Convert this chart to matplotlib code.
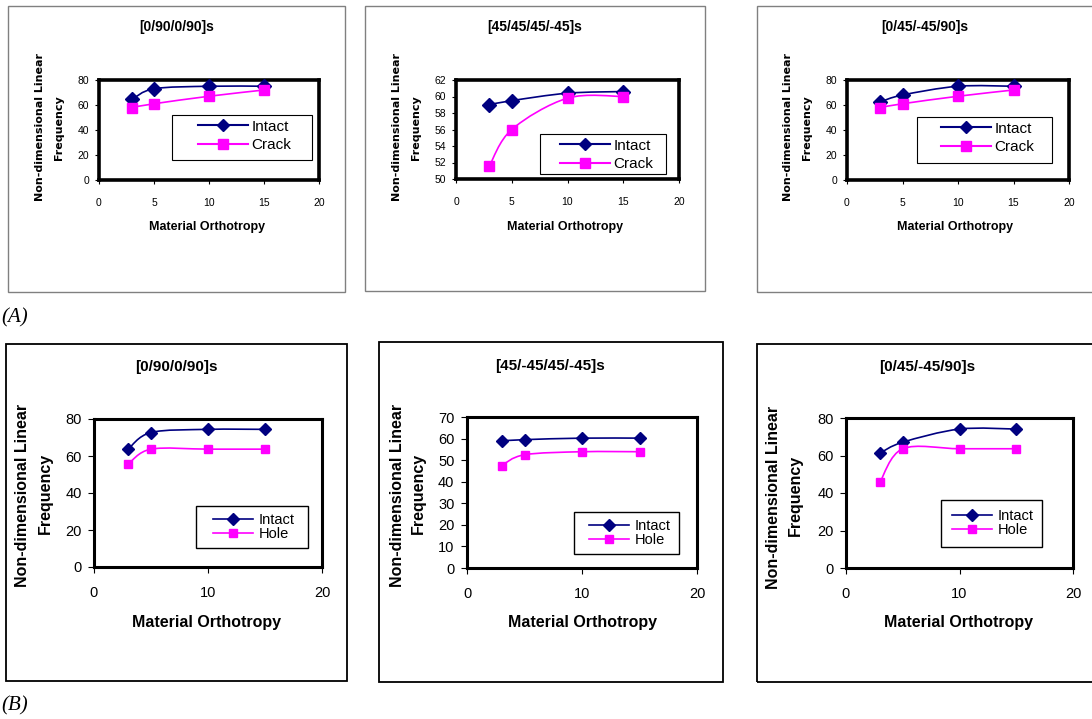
import matplotlib
matplotlib.use("Agg")
import matplotlib.pyplot as plt
from matplotlib.path import Path
from matplotlib.patches import PathPatch, Rectangle
from matplotlib.lines import Line2D

plt.rcParams['font.family'] = ['Liberation Sans', 'DejaVu Sans']

# ---- data ----
orthotropy = [3, 5, 10, 15]

titulos = ["[0/90/0/90]s", "[45/45/45/-45]s", "[0/45/-45/90]s",
           "[0/90/0/90]s", "[45/-45/45/-45]s", "[0/45/-45/90]s"]

intact_a = [[64.5, 73, 75, 75],
            [59.0, 59.5, 60.4, 60.6],
            [62.5, 68, 75, 75]]
crack_a = [[58, 61, 67, 72],
           [51.6, 56.0, 59.8, 60.0],
           [58, 61, 67, 72]]

intact_b = [[63.7, 72.7, 74.4, 74.4],
            [58.9, 59.5, 60.2, 60.2],
            [61.3, 67.1, 74.1, 74.1]]
hole_b = [[55.6, 63.7, 63.7, 63.7],
          [47.5, 52.5, 53.9, 53.9],
          [45.9, 63.6, 63.6, 63.6]]

ylims_a = [(0, 80, 20), (50, 62, 2), (0, 80, 20)]
ylims_b = [(0, 80, 20), (0, 70, 10), (0, 80, 20)]

AZUL = "#000080"
ROSA = "#FF00FF"

W, H = 1092, 719
fig = plt.figure(figsize=(W / 100, H / 100), dpi=100)


def px(x0, y0, x1, y1):
    return [x0 / W, 1 - y1 / H, (x1 - x0) / W, (y1 - y0) / H]


def fx(x):
    return x / W


def fy(y):
    return 1 - y / H


def caja(x0, y0, x1, y1, color, lw):
    fig.patches.append(Rectangle((fx(x0), fy(y1)), fx(x1 - x0), (y1 - y0) / H,
                                 transform=fig.transFigure, fill=False,
                                 edgecolor=color, lw=lw, zorder=5))


def curva(ax, x, y, color, lw):
    # suavizado tipo Excel (Catmull-Rom -> Bezier)
    n = len(x)
    verts = [(x[0], y[0])]
    codes = [Path.MOVETO]
    for i in range(n - 1):
        i0 = max(i - 1, 0)
        i3 = min(i + 2, n - 1)
        c1 = (x[i] + (x[i + 1] - x[i0]) / 6, y[i] + (y[i + 1] - y[i0]) / 6)
        c2 = (x[i + 1] - (x[i3] - x[i]) / 6, y[i + 1] - (y[i3] - y[i]) / 6)
        verts += [c1, c2, (x[i + 1], y[i + 1])]
        codes += [Path.CURVE4] * 3
    ax.add_patch(PathPatch(Path(verts, codes), fill=False, edgecolor=color, lw=lw, zorder=2))


# ---- marcos de cada grafico ----
marcos_a = [(8, 6, 345, 292), (365, 6, 705, 291), (757, 6, 1110, 292)]
marcos_b = [(6, 344, 347, 681), (379, 342, 723, 682), (757, 344, 1110, 682)]
for m in marcos_a:
    caja(*m, "#808080", 1.0)
for m in marcos_b:
    caja(*m, "black", 1.3)

# ---- fila A ----
ejes_a = [(99, 80, 319, 180), (456, 80, 679, 179), (847, 80, 1069, 180)]
titulo_a = [(177, 27), (535, 27), (925, 27)]
xlab_a = [(207, 227), (565, 227), (955, 227)]
ylab_a = [(40, 59), (397, 416), (788, 807)]
# caja de leyenda, inicio de la linea, centro de filas
caja_a = [(172, 115, 312, 160), (540, 134, 666, 174), (917, 117, 1052, 163)]
ley_a = [(198, 136), (560, 155), (941, 138)]

for k in range(3):
    ax = fig.add_axes(px(*ejes_a[k]))
    y0, y1, paso = ylims_a[k]
    ax.set_xlim(0, 20)
    ax.set_ylim(y0, y1)
    ax.set_xticks([0, 5, 10, 15, 20])
    ax.set_yticks(list(range(y0, y1 + 1, paso)))
    for s in ax.spines.values():
        s.set_linewidth(2.6)
    ax.tick_params(direction='out', length=3, width=0.8, labelsize=7.5)
    ax.tick_params(axis='x', pad=10)
    ax.tick_params(axis='y', pad=4)
    curva(ax, orthotropy, intact_a[k], AZUL, 1.2)
    curva(ax, orthotropy, crack_a[k], ROSA, 1.2)
    ax.plot(orthotropy, intact_a[k], ls='none', marker='D', ms=7, color=AZUL, zorder=3, clip_on=False)
    ax.plot(orthotropy, crack_a[k], ls='none', marker='s', ms=7.5, color=ROSA, zorder=3, clip_on=False)
    handles = [Line2D([], [], color=AZUL, marker='D', ms=6, lw=1.5),
               Line2D([], [], color=ROSA, marker='s', ms=6.5, lw=1.5)]
    lx, ly = ley_a[k]
    ax.legend(handles, ["Intact", "Crack"], loc='center left',
              bbox_to_anchor=(fx(lx), fy(ly)), bbox_transform=fig.transFigure,
              borderaxespad=0, borderpad=0, fontsize=11, handlelength=3.3,
              handletextpad=0.2, labelspacing=0.3, frameon=False)
    caja(*caja_a[k], "black", 0.8)

    tx, ty = titulo_a[k]
    fig.text(fx(tx), fy(ty), titulos[k], ha='center', va='center', fontsize=10, fontweight='bold')
    tx, ty = xlab_a[k]
    fig.text(fx(tx), fy(ty), "Material Orthotropy", ha='center', va='center', fontsize=9, fontweight='bold')
    c1, c2 = ylab_a[k]
    fig.text(fx(c1), fy(127), "Non-dimensional Linear", ha='center', va='center',
             rotation=90, fontsize=8, fontweight='bold', family='DejaVu Sans')
    fig.text(fx(c2), fy(128), "Frequency", ha='center', va='center',
             rotation=90, fontsize=8, fontweight='bold', family='DejaVu Sans')

# ---- fila B ----
ejes_b = [(94, 419, 322, 567), (467, 417, 697, 568), (846, 418, 1073, 568)]
titulo_b = [(176, 367), (550, 366), (927, 367)]
xlab_b = [(207, 622), (583, 623), (958, 623)]
ylab_b = [(23, 45), (397, 418), (773, 795)]
ycen_b = [495, 495, 497]
caja_b = [(196, 506, 308, 548), (574, 512, 679, 554), (941, 500, 1042, 547)]
ley_b = [(213, 527), (589, 533), (952, 523)]

for k in range(3):
    ax = fig.add_axes(px(*ejes_b[k]))
    y0, y1, paso = ylims_b[k]
    ax.set_xlim(0, 20)
    ax.set_ylim(y0, y1)
    ax.set_xticks([0, 10, 20])
    ax.set_yticks(list(range(y0, y1 + 1, paso)))
    for s in ax.spines.values():
        s.set_linewidth(2.2)
    ax.tick_params(direction='out', length=4, width=0.8, labelsize=10.5)
    ax.tick_params(axis='x', pad=10)
    ax.tick_params(axis='y', pad=5)
    curva(ax, orthotropy, intact_b[k], AZUL, 1.2)
    curva(ax, orthotropy, hole_b[k], ROSA, 1.2)
    ax.plot(orthotropy, intact_b[k], ls='none', marker='D', ms=6, color=AZUL, zorder=3, clip_on=False)
    ax.plot(orthotropy, hole_b[k], ls='none', marker='s', ms=5.5, color=ROSA, zorder=3, clip_on=False)
    handles = [Line2D([], [], color=AZUL, marker='D', ms=6, lw=1.2),
               Line2D([], [], color=ROSA, marker='s', ms=5.5, lw=1.2)]
    lx, ly = ley_b[k]
    ax.legend(handles, ["Intact", "Hole"], loc='center left',
              bbox_to_anchor=(fx(lx), fy(ly)), bbox_transform=fig.transFigure,
              borderaxespad=0, borderpad=0, fontsize=10.5, handlelength=2.75,
              handletextpad=0.4, labelspacing=0.0, frameon=False)
    caja(*caja_b[k], "black", 1.0)

    tx, ty = titulo_b[k]
    fig.text(fx(tx), fy(ty), titulos[k + 3], ha='center', va='center', fontsize=11, fontweight='bold')
    tx, ty = xlab_b[k]
    fig.text(fx(tx), fy(ty), "Material Orthotropy", ha='center', va='center', fontsize=11.5, fontweight='bold')
    c1, c2 = ylab_b[k]
    fig.text(fx(c1), fy(ycen_b[k]), "Non-dimensional Linear", ha='center', va='center',
             rotation=90, fontsize=11.5, fontweight='bold')
    fig.text(fx(c2), fy(ycen_b[k] - 2), "Frequency", ha='center', va='center',
             rotation=90, fontsize=11.5, fontweight='bold')

# ---- etiquetas (A) (B) ----
fig.text(fx(1), fy(318), "(A)", ha='left', va='center', fontsize=15, style='italic', family='Liberation Serif')
fig.text(fx(1), fy(706), "(B)", ha='left', va='center', fontsize=15, style='italic', family='Liberation Serif')

fig.savefig("out.png", dpi=100)
